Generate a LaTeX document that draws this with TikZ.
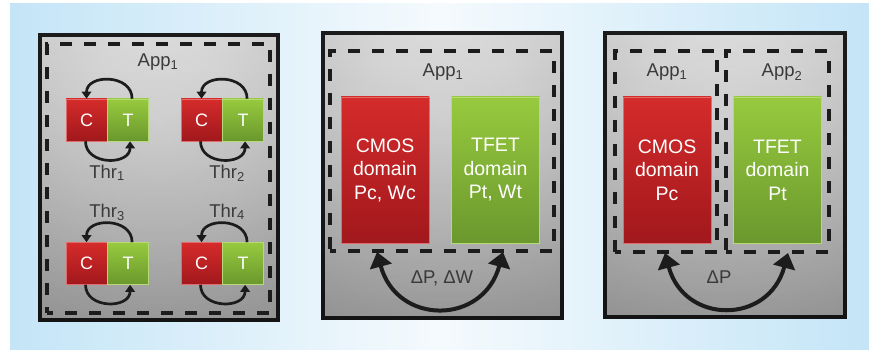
\documentclass[tikz,border=0pt]{standalone}
\usepackage{fontspec}
\setmainfont{Liberation Sans}
\usetikzlibrary{arrows.meta,fadings}

\definecolor{bgblue}{HTML}{C4E5F7}
\definecolor{bgpale}{HTML}{F5FAFD}
\definecolor{redtop}{HTML}{D52B2B}
\definecolor{redbot}{HTML}{A1181C}
\definecolor{grntop}{HTML}{97CA3E}
\definecolor{grnbot}{HTML}{6A982D}
\definecolor{ink}{HTML}{1C1C1C}
\definecolor{labelgray}{HTML}{3A3A3A}
\definecolor{panelhi}{HTML}{E2E2E2}
\definecolor{panelmid}{HTML}{CACACA}
\definecolor{panello}{HTML}{A4A4A4}

% light spot in the upper middle of each panel
\pgfdeclareradialshading{panelshade}{\pgfpoint{0bp}{10bp}}{%
  color(0bp)=(panelhi); color(18bp)=(panelhi!70!panelmid);
  color(38bp)=(panelmid); color(50bp)=(panello)}
% darkening towards the bottom of each panel
\tikzfading[name=darkbottom, top color=transparent!100, bottom color=transparent!0]

\tikzset{
  panel/.style={rectangle, draw=ink, line width=3.2pt, shading=panelshade, inner sep=0pt},
  region/.style={rectangle, draw=ink, line width=3.2pt, dash pattern=on 12pt off 12pt,
    dash phase=6pt, inner sep=0pt},
  cbox/.style={rectangle, top color=redtop, bottom color=redbot, draw=redtop!70!white,
    line width=0.6pt, minimum width=41pt, minimum height=42pt, inner sep=0pt,
    text=white, font=\fontsize{18}{18}\selectfont},
  tbox/.style={cbox, top color=grntop, bottom color=grnbot, draw=grntop!70!white},
  domred/.style={rectangle, top color=redtop, bottom color=redbot, draw=redtop!70!white,
    line width=0.6pt, minimum width=88pt, minimum height=146pt, inner sep=0pt,
    text=white, align=center, font=\fontsize{19.5}{23.5}\selectfont},
  domgrn/.style={domred, top color=grntop, bottom color=grnbot, draw=grntop!70!white},
  lbl/.style={text=labelgray, font=\fontsize{18.5}{19}\selectfont, anchor=base, inner sep=0pt},
  loop/.style={draw=ink, line width=2.7pt, -{Triangle[width=9.5pt,length=7pt]},
    looseness=1.4},
  swap/.style={draw=ink, line width=4pt,
    {Triangle[width=22pt,length=15pt]}-{Triangle[width=22pt,length=15pt]},
    looseness=1.55}
}

\begin{document}
\begin{tikzpicture}[x=1pt, y=-1pt]
\useasboundingbox (0,0) rectangle (869,350);

% backdrop
\fill[left color=bgblue, right color=bgblue, middle color=bgpale] (10,4) rectangle (869,350);

% ---------- panel 1: four threads of one application ----------
\node[panel, minimum width=238pt, minimum height=285pt] (p1) at (159,177.5) {};
\fill[black, fill opacity=0.28, path fading=darkbottom] (p1.south west) rectangle (p1.north east);
\node[region, minimum width=223pt, minimum height=269pt] (r1) at (158.5,178.5) {};
\node[lbl] (app1a) at (158,67) {App\textsubscript{1}};

\node[cbox] (c1) at (86.5,120) {C};
\node[tbox, anchor=west] (t1) at (c1.east) {T};
\node[cbox] (c2) at (201.5,120) {C};
\node[tbox, anchor=west] (t2) at (c2.east) {T};
\node[cbox] (c3) at (86.5,263.5) {C};
\node[tbox, anchor=west] (t3) at (c3.east) {T};
\node[cbox] (c4) at (201.5,263.5) {C};
\node[tbox, anchor=west] (t4) at (c4.east) {T};

\foreach \i in {1,2,3,4}{
  \draw[loop] ([xshift=4pt]t\i.north) to[out=90, in=90] (c\i.north);
  \draw[loop] ([xshift=-1pt]c\i.south) to[out=-90, in=-90] ([xshift=2pt]t\i.south);
}

\node[lbl] (thr1) at (107,178) {Thr\textsubscript{1}};
\node[lbl] (thr2) at (227,178) {Thr\textsubscript{2}};
\node[lbl] (thr3) at (107,217) {Thr\textsubscript{3}};
\node[lbl] (thr4) at (227,217) {Thr\textsubscript{4}};

% ---------- panel 2: one application over both domains ----------
\node[panel, minimum width=239pt, minimum height=285pt] (p2) at (442.5,175.5) {};
\fill[black, fill opacity=0.28, path fading=darkbottom] (p2.south west) rectangle (p2.north east);
\node[region, minimum width=224pt, minimum height=200pt] (r2) at (442,151) {};
\node[lbl] (app1b) at (443,77) {App\textsubscript{1}};
\node[domred] (cmos2) at (385,170) {CMOS\\domain\\Pc, Wc};
\node[domgrn] (tfet2) at (495.5,170) {TFET\\domain\\Pt, Wt};
\coordinate (s2l) at (377,252);
\coordinate (s2r) at (503,252);
\draw[swap] (s2l) to[out=-75, in=-105] (s2r);
\node[lbl] (dpw) at (442,283) {ΔP, ΔW};

% ---------- panel 3: one application per domain ----------
\node[panel, minimum width=240pt, minimum height=284pt] (p3) at (725,175) {};
\fill[black, fill opacity=0.28, path fading=darkbottom] (p3.south west) rectangle (p3.north east);
\node[region, minimum width=102pt, minimum height=201pt] (r3a) at (666,151.5) {};
\node[region, minimum width=103pt, minimum height=201pt] (r3b) at (777.5,151.5) {};
\node[lbl] (app1c) at (667,77) {App\textsubscript{1}};
\node[lbl] (app2c) at (782,77) {App\textsubscript{2}};
\node[domred] (cmos3) at (667,170) {CMOS\\domain\\Pc};
\node[domgrn] (tfet3) at (777.5,170) {TFET\\domain\\Pt};
\coordinate (s3l) at (665,253);
\coordinate (s3r) at (788,253);
\draw[swap] (s3l) to[out=-75, in=-105] (s3r);
\node[lbl] (dp) at (719,283) {ΔP};
\end{tikzpicture}
\end{document}
